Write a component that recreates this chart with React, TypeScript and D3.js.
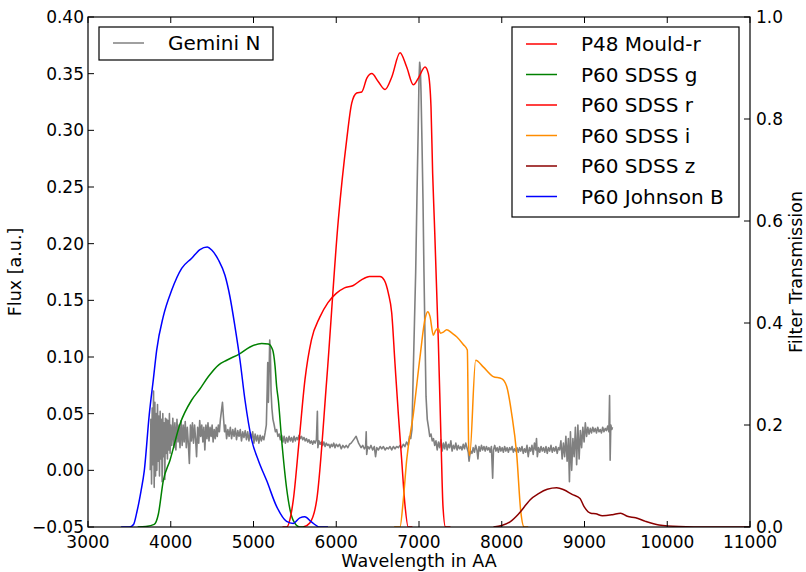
import React from "react";
import * as d3 from "d3";

// ---------- Data ----------
const xTicks = [3000, 4000, 5000, 6000, 7000, 8000, 9000, 10000, 11000];
const fluxTicks = [-0.05, 0.0, 0.05, 0.1, 0.15, 0.2, 0.25, 0.3, 0.35, 0.4];
const transTicks = [0.0, 0.2, 0.4, 0.6, 0.8, 1.0];

// Gemini N spectrum (wavelength in AA, flux in a.u.)
const specWave = [
  3752, 3760, 3768, 3776, 3784, 3792, 3800, 3808, 3816, 3824, 3832, 3840, 3848, 3856, 3864, 3872, 3880, 3888, 3896, 3904,
  3912, 3920, 3928, 3936, 3944, 3952, 3960, 3968, 3976, 3984, 3992, 4000,
  4012, 4025, 4038, 4050, 4062, 4075, 4088, 4100, 4112, 4125, 4138, 4150, 4162, 4175, 4188, 4200, 4212, 4225, 4238, 4250,
  4262, 4275, 4288, 4300, 4312, 4325, 4338, 4350, 4362, 4375, 4388, 4400, 4412, 4425, 4438, 4450, 4462, 4475, 4488, 4500,
  4512, 4525, 4538, 4550, 4562, 4575, 4588, 4600, 4612, 4625, 4638, 4650, 4662, 4675, 4690, 4705, 4720, 4735, 4750, 4765,
  4780, 4795, 4810, 4825, 4840, 4855, 4870, 4885, 4900, 4915, 4930, 4945, 4960, 4975, 4990, 5005, 5020, 5035, 5050, 5065,
  5080, 5095, 5110, 5125, 5140, 5155, 5165, 5172, 5180, 5188, 5196, 5204, 5212, 5222, 5235, 5250, 5265, 5280, 5295, 5310,
  5325, 5340, 5355, 5370, 5385, 5400, 5415, 5430, 5445, 5460, 5475, 5490, 5505, 5520, 5535, 5550, 5565, 5580, 5595, 5610,
  5625, 5640, 5655, 5670, 5685, 5700, 5715, 5730, 5745, 5760, 5772, 5778, 5790, 5805, 5820, 5835, 5850, 5865, 5880, 5895,
  5910, 5925, 5940, 5955, 5970, 5985, 6000, 6020, 6040, 6060, 6080, 6100, 6120, 6140, 6160, 6180, 6200, 6220, 6240, 6255,
  6270, 6285, 6300, 6320, 6340, 6355, 6362, 6368, 6380, 6400, 6420, 6440, 6460, 6475, 6490, 6510, 6530, 6550, 6570, 6590,
  6610, 6630, 6650, 6670, 6690, 6710, 6730, 6750, 6770, 6790, 6810, 6830, 6850, 6870, 6885, 6900, 6915, 6930, 6945, 6960,
  6975, 6990, 7000, 7008, 7016, 7024, 7036, 7048, 7060, 7072, 7085, 7100, 7115, 7130, 7145, 7160, 7175, 7190, 7205, 7220,
  7235, 7250, 7265, 7280, 7295, 7310, 7325, 7340, 7355, 7370, 7385, 7400, 7415, 7430, 7445, 7460, 7475, 7490, 7505, 7520,
  7535, 7550, 7565, 7580, 7595, 7605, 7615, 7625, 7640, 7655, 7670, 7685, 7700, 7712, 7725, 7740, 7755, 7770, 7785, 7800,
  7815, 7830, 7845, 7860, 7875, 7890, 7900, 7915, 7930, 7945, 7960, 7975, 7990, 8005, 8020, 8035, 8050, 8065, 8080, 8095,
  8110, 8125, 8140, 8155, 8170, 8185, 8200, 8215, 8230, 8245, 8260, 8275, 8290, 8305, 8320, 8335, 8350, 8365, 8380, 8395,
  8410, 8420, 8430, 8445, 8460, 8475, 8490, 8505, 8520, 8535, 8550, 8565, 8580, 8595, 8610, 8625, 8640, 8655, 8670, 8685,
  8700, 8715, 8730, 8745, 8760, 8775, 8790, 8805, 8818, 8830, 8845, 8860, 8875, 8890, 8905, 8920, 8935, 8950, 8965, 8980,
  8995, 9010, 9025, 9040, 9055, 9070, 9085, 9100, 9115, 9130, 9145, 9160, 9175, 9190, 9205, 9220, 9235, 9250, 9265, 9280,
  9295, 9303, 9310, 9318, 9330, 9338,
];
const specFlux = [
  0.0, 0.045, -0.012, 0.055, 0.005, 0.07, -0.015, 0.06, -0.005, 0.05, 0.0, 0.058, 0.008, 0.048, -0.005, 0.052, 0.01, 0.045, -0.01, 0.05,
  0.012, 0.042, -0.008, 0.046, 0.015, 0.045, 0.01, 0.044, 0.018, 0.05, 0.015, 0.04,
  0.022, 0.046, 0.02, 0.042, 0.018, 0.045, 0.025, 0.04, 0.02, 0.044, 0.022, 0.04, 0.025, 0.043, 0.02, 0.038, 0.024, 0.006, 0.04, 0.026,
  0.042, 0.024, 0.04, 0.028, 0.012, 0.038, 0.024, 0.044, 0.03, 0.04, 0.025, 0.038, 0.018, 0.04, 0.028, 0.042, 0.026, 0.038, 0.03, 0.04,
  0.025, 0.036, 0.028, 0.038, 0.03, 0.04, 0.034, 0.045, 0.052, 0.06, 0.046, 0.034, 0.04, 0.028, 0.036, 0.03, 0.038, 0.028, 0.036, 0.03,
  0.037, 0.027, 0.035, 0.03, 0.036, 0.026, 0.034, 0.029, 0.035, 0.027, 0.034, 0.026, 0.033, 0.028, 0.034, 0.024, 0.032, 0.026, 0.031, 0.024,
  0.031, 0.026, 0.03, 0.027, 0.033, 0.04, 0.07, 0.095, 0.06, 0.085, 0.115, 0.105, 0.07, 0.055, 0.045, 0.04, 0.034, 0.036, 0.03, 0.032,
  0.027, 0.031, 0.025, 0.03, 0.024, 0.029, 0.025, 0.03, 0.026, 0.029, 0.025, 0.03, 0.026, 0.029, 0.027, 0.031, 0.028, 0.03, 0.027, 0.029,
  0.026, 0.028, 0.025, 0.027, 0.024, 0.026, 0.023, 0.026, 0.024, 0.027, 0.052, 0.02, 0.026, 0.023, 0.025, 0.022, 0.025, 0.021, 0.024, 0.022,
  0.023, 0.02, 0.023, 0.021, 0.024, 0.02, 0.023, 0.021, 0.023, 0.019, 0.022, 0.02, 0.022, 0.02, 0.023, 0.024, 0.026, 0.028, 0.03, 0.027,
  0.024, 0.022, 0.02, 0.022, 0.019, 0.021, 0.034, 0.014, 0.021, 0.019, 0.022, 0.018, 0.021, 0.012, 0.02, 0.018, 0.021, 0.019, 0.021, 0.018,
  0.02, 0.019, 0.021, 0.018, 0.021, 0.019, 0.021, 0.02, 0.022, 0.02, 0.023, 0.021, 0.025, 0.022, 0.03, 0.028, 0.036, 0.085, 0.13, 0.175,
  0.24, 0.3, 0.345, 0.36, 0.355, 0.335, 0.29, 0.24, 0.175, 0.12, 0.065, 0.045, 0.038, 0.03, 0.032, 0.026, 0.028, 0.022, 0.026, 0.018,
  0.025, 0.02, 0.027, 0.017, 0.024, 0.019, 0.025, 0.018, 0.023, 0.02, 0.026, 0.017, 0.022, 0.019, 0.024, 0.018, 0.022, 0.019, 0.021, 0.018,
  0.023, 0.019, 0.024, 0.02, 0.016, 0.008, 0.014, 0.017, 0.015, 0.02, 0.016, 0.022, 0.018, 0.01, 0.021, 0.017, 0.022, 0.018, 0.021, 0.017,
  0.021, 0.018, 0.02, 0.016, 0.021, -0.007, 0.018, 0.022, 0.017, 0.02, 0.016, 0.021, 0.017, 0.02, 0.016, 0.021, 0.017, 0.02, 0.016, 0.02,
  0.018, 0.021, 0.016, 0.019, 0.017, 0.02, 0.016, 0.02, 0.017, 0.021, 0.015, 0.019, 0.016, 0.022, 0.012, 0.02, 0.017, 0.022, 0.014, 0.024,
  0.018, 0.028, 0.012, 0.02, 0.016, 0.021, 0.017, 0.02, 0.016, 0.021, 0.015, 0.02, 0.017, 0.022, 0.016, 0.02, 0.017, 0.021, 0.015, 0.02,
  0.018, 0.026, 0.01, 0.024, 0.012, 0.03, 0.008, 0.028, -0.01, 0.034, 0.0, 0.028, 0.012, 0.038, 0.005, 0.04, 0.01, 0.035, 0.02, 0.038,
  0.025, 0.042, 0.03, 0.038, 0.032, 0.037, 0.033, 0.038, 0.034, 0.037, 0.033, 0.038, 0.034, 0.036, 0.033, 0.038, 0.034, 0.037, 0.035, 0.039,
  0.034, 0.066, 0.009, 0.04, 0.036, 0.038,
];

// Filter transmission curves
const mouldWave = [5600, 5680, 5764, 5885, 6025, 6126, 6187, 6247, 6308, 6370, 6429, 6509, 6590, 6670, 6771, 6851, 6932, 6992, 7073, 7113, 7145, 7165, 7185, 7233, 7266, 7290, 7320, 7380];
const mouldT = [0, 0.008, 0.053, 0.289, 0.602, 0.759, 0.831, 0.851, 0.853, 0.88, 0.889, 0.873, 0.858, 0.882, 0.93, 0.902, 0.867, 0.88, 0.902, 0.889, 0.824, 0.693, 0.602, 0.367, 0.171, 0.04, 0, 0];

const gWave = [3600, 3700, 3800, 3850, 3910, 3991, 4112, 4253, 4350, 4455, 4580, 4676, 4837, 4958, 5099, 5179, 5232, 5260, 5280, 5300, 5340, 5400, 5440, 5480, 5560, 5620];
const gT = [0, 0.001, 0.005, 0.025, 0.091, 0.131, 0.202, 0.249, 0.27, 0.295, 0.318, 0.327, 0.34, 0.353, 0.36, 0.359, 0.347, 0.316, 0.275, 0.249, 0.171, 0.076, 0.035, 0.013, 0, 0];

const rWave = [5350, 5400, 5450, 5481, 5550, 5622, 5700, 5800, 5900, 6000, 6100, 6200, 6300, 6400, 6529, 6580, 6630, 6670, 6710, 6750, 6791, 6830, 6870, 6920];
const rT = [0, 0, 0.022, 0.053, 0.167, 0.289, 0.367, 0.411, 0.44, 0.458, 0.469, 0.473, 0.484, 0.491, 0.491, 0.484, 0.458, 0.42, 0.32, 0.222, 0.131, 0.044, 0, 0];

const iWave = [6700, 6770, 6810, 6851, 6932, 7012, 7072, 7105, 7133, 7173, 7200, 7233, 7260, 7294, 7334, 7400, 7455, 7535, 7584, 7600, 7612, 7685, 7776, 7897, 7998, 8059, 8120, 8180, 8230, 8270, 8320];
const iT = [0, 0, 0.053, 0.131, 0.222, 0.333, 0.407, 0.422, 0.413, 0.376, 0.385, 0.389, 0.38, 0.382, 0.387, 0.38, 0.373, 0.358, 0.347, 0.16, 0.14, 0.327, 0.314, 0.295, 0.291, 0.276, 0.222, 0.144, 0.03, 0, 0];

const zWave = [7900, 8000, 8100, 8200, 8300, 8341, 8450, 8550, 8664, 8750, 8850, 8946, 8995, 9076, 9136, 9216, 9337, 9437, 9517, 9618, 9738, 9900, 10140, 10500, 11000];
const zT = [0, 0.003, 0.01, 0.025, 0.045, 0.053, 0.066, 0.074, 0.077, 0.073, 0.064, 0.056, 0.04, 0.027, 0.026, 0.022, 0.024, 0.027, 0.021, 0.018, 0.011, 0.004, 0.001, 0, 0];

const bWave = [3400, 3500, 3550, 3590, 3640, 3680, 3740, 3790, 3830, 3910, 4011, 4132, 4253, 4353, 4442, 4495, 4575, 4656, 4716, 4776, 4837, 4897, 4978, 5060, 5159, 5280, 5400, 5480, 5560, 5620, 5700, 5800, 5900];
const bT = [0, 0, 0.005, 0.029, 0.07, 0.11, 0.22, 0.29, 0.347, 0.413, 0.464, 0.507, 0.527, 0.544, 0.549, 0.543, 0.524, 0.493, 0.451, 0.393, 0.327, 0.249, 0.171, 0.13, 0.091, 0.04, 0.011, 0.007, 0.018, 0.02, 0.01, 0.0, 0];

const filterNames = ["P48 Mould-r", "P60 SDSS g", "P60 SDSS r", "P60 SDSS i", "P60 SDSS z", "P60 Johnson B"];
const filterColors = ["#ff0000", "#008000", "#ff0000", "#ff8c00", "#8b0000", "#0000ff"];
const filterWaves = [mouldWave, gWave, rWave, iWave, zWave, bWave];
const filterTrans = [mouldT, gT, rT, iT, zT, bT];
const specName = "Gemini N";

// ---------- Layout ----------
const W = 806;
const H = 572;
const L = 88, R = 750, T = 17, B = 527;
const FONT = "DejaVu Sans, sans-serif";

export default function App() {
  const x = d3.scaleLinear().domain([3000, 11000]).range([L, R]);
  const yF = d3.scaleLinear().domain([-0.05, 0.4]).range([B, T]);
  const yT = d3.scaleLinear().domain([0, 1]).range([B, T]);

  const specLine = d3
    .line<number>()
    .x((_, i) => x(specWave[i]))
    .y((d) => yF(d));

  const filterPaths = filterWaves.map((wv, k) =>
    d3
      .line<number>()
      .x((_, i) => x(wv[i]))
      .y((d) => yT(d))
      .curve(d3.curveMonotoneX)(filterTrans[k]) as string
  );

  const fmtFlux = (v: number) => (v < 0 ? "\u2212" + Math.abs(v).toFixed(2) : v.toFixed(2));

  return (
    <svg
      width={W}
      height={H}
      style={{ position: "absolute", left: 0, top: 0, background: "#fff" }}
      fontFamily={FONT}
    >
      <rect x={0} y={0} width={W} height={H} fill="#fff" />
      <defs>
        <clipPath id="plotclip">
          <rect x={L} y={T} width={R - L} height={B - T} />
        </clipPath>
      </defs>

      <g clipPath="url(#plotclip)">
        <path d={specLine(specFlux) as string} fill="none" stroke="#808080" strokeWidth={1.6} strokeLinejoin="round" />
        {filterPaths.map((d, k) => (
          <path key={k} d={d} fill="none" stroke={filterColors[k]} strokeWidth={1.5} />
        ))}
      </g>

      {/* frame */}
      <rect x={L} y={T} width={R - L} height={B - T} fill="none" stroke="#000" strokeWidth={1.2} />

      {/* x ticks */}
      {xTicks.map((t) => (
        <g key={"x" + t}>
          <line x1={x(t)} x2={x(t)} y1={B} y2={B - 6} stroke="#000" strokeWidth={1} />
          <line x1={x(t)} x2={x(t)} y1={T} y2={T + 6} stroke="#000" strokeWidth={1} />
          <text x={x(t)} y={B + 21} textAnchor="middle" fontSize={17} fill="#000">
            {t}
          </text>
        </g>
      ))}

      {/* left ticks */}
      {fluxTicks.map((t) => (
        <g key={"f" + t}>
          <line x1={L} x2={L + 6} y1={yF(t)} y2={yF(t)} stroke="#000" strokeWidth={1} />
          <text x={L - 4} y={yF(t)} dy="0.36em" textAnchor="end" fontSize={17} fill="#000">
            {fmtFlux(t)}
          </text>
        </g>
      ))}

      {/* right ticks */}
      {transTicks.map((t) => (
        <g key={"t" + t}>
          <line x1={R - 6} x2={R} y1={yT(t)} y2={yT(t)} stroke="#000" strokeWidth={1} />
          <text x={R + 6} y={yT(t)} dy="0.36em" textAnchor="start" fontSize={17} fill="#000">
            {t.toFixed(1)}
          </text>
        </g>
      ))}

      {/* axis labels */}
      <text x={(L + R) / 2} y={567} textAnchor="middle" fontSize={17.5} fill="#000">
        Wavelength in AA
      </text>
      <text transform={`translate(21,${(T + B) / 2}) rotate(-90)`} textAnchor="middle" fontSize={17.5} fill="#000">
        Flux [a.u.]
      </text>
      <text transform={`translate(802,${(T + B) / 2}) rotate(-90)`} textAnchor="middle" fontSize={17.5} fill="#000">
        Filter Transmission
      </text>

      {/* left legend */}
      <g>
        <rect x={99} y={27} width={174} height={33} fill="#fff" stroke="#000" strokeWidth={1.2} />
        <line x1={113} x2={144} y1={43} y2={43} stroke="#808080" strokeWidth={1.5} />
        <text x={168} y={50} fontSize={20} fill="#000">
          {specName}
        </text>
      </g>

      {/* right legend */}
      <g>
        <rect x={512} y={27} width={227} height={190} fill="#fff" stroke="#000" strokeWidth={1.2} />
        {filterNames.map((n, k) => {
          const yy = 44 + k * 30.5;
          return (
            <g key={n + k}>
              <line x1={526} x2={557} y1={yy} y2={yy} stroke={filterColors[k]} strokeWidth={1.5} />
              <text x={581} y={yy + 7} fontSize={20} fill="#000">
                {n}
              </text>
            </g>
          );
        })}
      </g>
    </svg>
  );
}
